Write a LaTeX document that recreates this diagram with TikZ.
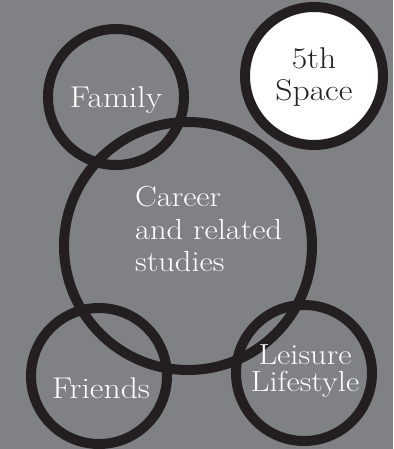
\documentclass[tikz,border=0pt]{standalone}
\usepackage{fontspec}
\setmainfont{Latin Modern Roman}[FakeStretch=1.12]
\definecolor{bggray}{RGB}{128,129,133}
\definecolor{inkblack}{RGB}{35,31,32}
\tikzset{
  ring/.style={circle, draw=inkblack, line width=10pt, inner sep=0pt},
  ringtext/.style={text=white, font=\fontsize{30}{32.5}\selectfont, align=center, inner sep=0pt}
}
\begin{document}
\begin{tikzpicture}[x=1pt, y=-1pt]

	% Background
	\fill[bggray] (0,0) rectangle (393,449);
	\useasboundingbox (0,0) rectangle (393,449);

	% Rings
	\node[ring, minimum size=136pt] (family) at (116,97) {};
	\node[ring, minimum size=138pt, fill=white] (space) at (314,76) {};
	\node[ring, minimum size=248pt] (career) at (188,246) {};
	\node[ring, minimum size=136pt] (friends) at (99,376) {};
	\node[ring, minimum size=136pt] (leisure) at (304,373) {};

	% Labels
	\node[ringtext] (familytext) at ([yshift=-3pt]family.center) {Family};
	\node[ringtext, text=inkblack] (spacetext) at ([yshift=-1pt]space.center) {5th\\Space};
	\node[ringtext, font=\fontsize{29}{32.5}\selectfont, align=left, anchor=west] (careertext) at (135,229) {Career\\and related\\studies};
	\node[ringtext] (friendstext) at (101,388) {Friends};
	\node[ringtext, font=\fontsize{29}{27.5}\selectfont] (leisuretext) at (305,371) {Leisure\\Lifestyle};

\end{tikzpicture}
\end{document}
